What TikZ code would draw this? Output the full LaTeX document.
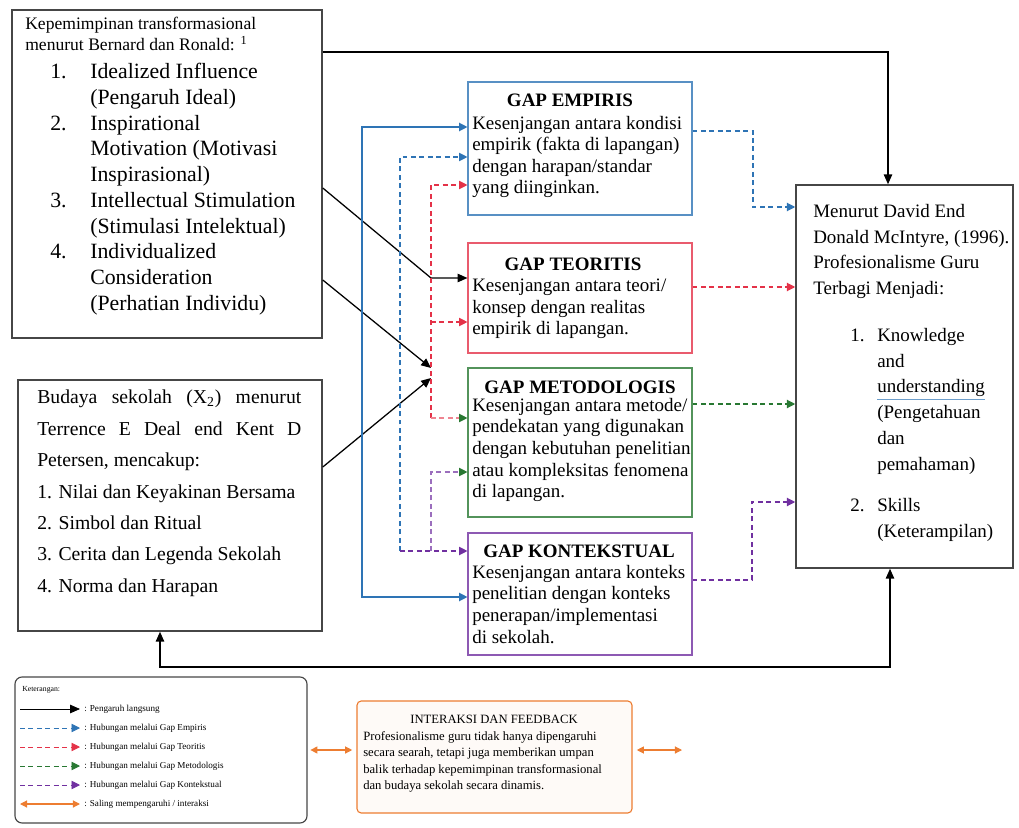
\documentclass[tikz,border=0pt]{standalone}
\usepackage{fontspec}
\setmainfont{Liberation Serif}
\usetikzlibrary{arrows.meta,fit}

\definecolor{gapblue}{RGB}{46,116,181}
\definecolor{gapred}{RGB}{228,50,72}
\definecolor{gapgreen}{RGB}{40,120,50}
\definecolor{gappurple}{RGB}{112,48,160}
\definecolor{interorange}{RGB}{237,125,49}
\definecolor{boxgray}{RGB}{70,70,70}

\newcommand{\introfont}{\fontsize{12.5}{14.6}\selectfont}
\newcommand{\listfont}{\fontsize{15.5}{18.3}\selectfont}
\newcommand{\budfont}{\fontsize{14}{22.3}\selectfont}
\newcommand{\gapfont}{\fontsize{13.5}{15.3}\selectfont}
\newcommand{\profont}{\fontsize{13.5}{18.3}\selectfont}
\newcommand{\legfont}{\fontsize{6.5}{8}\selectfont}
\newcommand{\interfont}{\fontsize{9}{11.7}\selectfont}
\newcommand{\itemno}[2][1cm]{\makebox[#1][l]{#2}}

\begin{document}
\begin{tikzpicture}[x=0.025cm, y=-0.025cm,
    mainbox/.style={draw=boxgray, line width=1.1pt, inner sep=0pt},
    gapbox/.style={draw=#1, line width=0.8pt, inner sep=0pt},
    txt/.style={inner sep=0pt, anchor=north west, align=left},
    gaptitle/.style={inner sep=0pt, anchor=base, font=\gapfont\bfseries},
    legtxt/.style={inner sep=0pt, anchor=west, font=\legfont},
    direct/.style={line width=0.9pt, -{Triangle[length=7pt,width=6pt]}},
    dashlink/.style={draw=#1, line width=0.8pt, dash pattern=on 3.5pt off 2.5pt},
    gaphead/.style={-{Triangle[length=6pt,width=6pt,color=#1]}},
    inter/.style={draw=interorange, line width=0.8pt, {Triangle[length=5pt,width=5pt]}-{Triangle[length=5pt,width=5pt]}}
  ]
    \useasboundingbox (0,0) rectangle (1019,828);

    % kotak utama
    \node[mainbox, fit={(12,10) (322,338)}] (A) {};
    \node[mainbox, fit={(18,380) (322,631)}] (B) {};
    \node[mainbox, fit={(796,185) (1013,568)}] (R) {};

    % kotak gap
    \node[gapbox=gapblue!80, fit={(468,82) (692,215)}] (E) {};
    \node[gapbox=gapred!80, fit={(468,243) (692,353)}] (T) {};
    \node[gapbox=gapgreen!80, fit={(468,368) (692,517)}] (M) {};
    \node[gapbox=gappurple!80, fit={(468,533) (692,655)}] (K) {};

    % keterangan dan interaksi
    \node[mainbox, rounded corners=5pt, line width=0.8pt, fit={(15,677) (307,823)}] (L) {};
    \node[draw=interorange, fill=interorange!4, rounded corners=3pt, line width=0.8pt, inner sep=0pt, fit={(357,701) (632,813)}] (I) {};

    % teks
    \node[txt, font=\introfont] (Aintro) at (25,17) {Kepemimpinan transformasional\\
        menurut Bernard dan Ronald: \textsuperscript{1}};
    \node[txt, font=\listfont] (Alist) at (50,63) {\itemno{1.}Idealized Influence\\
        \itemno{}(Pengaruh Ideal)\\
        \itemno{2.}Inspirational\\
        \itemno{}Motivation (Motivasi\\
        \itemno{}Inspirasional)\\
        \itemno{3.}Intellectual Stimulation\\
        \itemno{}(Stimulasi Intelektual)\\
        \itemno{4.}Individualized\\
        \itemno{}Consideration\\
        \itemno{}(Perhatian Individu)};

    \node[txt, font=\budfont] (Btext) at (37,390) {\makebox[6.6cm][s]{Budaya sekolah (X\textsubscript{2}) menurut}\\
        \makebox[6.6cm][s]{Terrence E Deal end Kent D}\\
        Petersen, mencakup:\\
        1. Nilai dan Keyakinan Bersama\\
        2. Simbol dan Ritual\\
        3. Cerita dan Legenda Sekolah\\
        4. Norma dan Harapan};

    \node[gaptitle] (Etitle) at (570,107) {GAP EMPIRIS};
    \node[txt, font=\gapfont] (Etext) at (472,116) {Kesenjangan antara kondisi\\
        empirik (fakta di lapangan)\\
        dengan harapan/standar\\
        yang diinginkan.};
    \node[gaptitle] (Ttitle) at (573,270) {GAP TEORITIS};
    \node[txt, font=\gapfont] (Ttext) at (472,279) {Kesenjangan antara teori/\\
        konsep dengan realitas\\
        empirik di lapangan.};
    \node[gaptitle] (Mtitle) at (580,393) {GAP METODOLOGIS};
    \node[txt, font=\gapfont] (Mtext) at (472,398) {Kesenjangan antara metode/\\
        pendekatan yang digunakan\\
        dengan kebutuhan penelitian\\
        atau kompleksitas fenomena\\
        di lapangan.};
    \node[gaptitle] (Ktitle) at (579,557) {GAP KONTEKSTUAL};
    \node[txt, font=\gapfont] (Ktext) at (472,565) {Kesenjangan antara konteks\\
        penelitian dengan konteks\\
        penerapan/implementasi\\
        di sekolah.};

    \node[txt, font=\profont] (Rintro) at (813,204) {Menurut David End\\
        Donald McIntyre, (1996).\\
        Profesionalisme Guru\\
        Terbagi Menjadi:};
    \node[txt, font=\profont] (Rlist) at (850,328) {\itemno[0.675cm]{1.}Knowledge\\
        \itemno[0.675cm]{}and\\
        \itemno[0.675cm]{}{\color{gapblue!70}\underline{\color{black}understanding}}\\
        \itemno[0.675cm]{}(Pengetahuan\\
        \itemno[0.675cm]{}dan\\
        \itemno[0.675cm]{}pemahaman)\\[11pt]
        \itemno[0.675cm]{2.}Skills\\
        \itemno[0.675cm]{}(Keterampilan)};

    \node[inner sep=0pt, anchor=base, font=\interfont] (Ititle) at (494,723) {INTERAKSI DAN FEEDBACK};
    \node[txt, font=\interfont] (Itext) at (363,731) {Profesionalisme guru tidak hanya dipengaruhi\\
        secara searah, tetapi juga memberikan umpan\\
        balik terhadap kepemimpinan transformasional\\
        dan budaya sekolah secara dinamis.};

    % pengaruh langsung
    \coordinate (topturn) at (888,52);
    \draw[direct] (A.east |- topturn) -- (topturn) -- (topturn |- R.north);
    \coordinate (botL) at (160,667);
    \coordinate (botR) at (890,667);
    \draw[direct, {Triangle[length=7pt,width=6pt]}-{Triangle[length=7pt,width=6pt]}] (botL |- B.south) -- (botL) -- (botR) -- (botR |- R.south);
    \coordinate (jT) at (431,278);
    \coordinate (jA) at (431,368);
    \coordinate (jB) at (431,378);
    \draw[direct] (A.east |- 0,188) -- (jT) -- (T.west |- jT);
    \draw[direct] (A.east |- 0,280) -- (jA);
    \draw[direct] (B.east |- 0,467) -- (jB);

    % kiri gap
    \coordinate (bt) at (362,127);
    \coordinate (bb) at (362,597);
    \draw[gapblue, line width=0.9pt, {Triangle[length=6pt,width=6pt]}-{Triangle[length=6pt,width=6pt]}] (E.west |- bt) -- (bt) -- (bb) -- (K.west |- bb);
    \coordinate (dbt) at (400,157);
    \coordinate (dbb) at (400,551);
    \draw[dashlink=gapblue, gaphead=gapblue] (dbb) -- (dbt) -- (E.west |- dbt);
    \draw[dashlink=gappurple, gaphead=gappurple] (dbb) -- (K.west |- dbb);
    \coordinate (rt) at (431,185);
    \coordinate (rb) at (431,418);
    \draw[dashlink=gapred, gaphead=gapred] (rb) -- (rt) -- (E.west |- rt);
    \draw[dashlink=gapred, gaphead=gapred] (rb |- 0,322) -- (T.west |- 0,322);
    \draw[dashlink=gapred!60, gaphead=gapgreen] (rb) -- (M.west |- rb);
    \coordinate (pt) at (431,472);
    \draw[dashlink=gappurple!70, gaphead=gapgreen] (pt |- dbb) -- (pt) -- (M.west |- pt);

    % kanan gap
    \coordinate (er) at (753,131);
    \draw[dashlink=gapblue, gaphead=gapblue] (E.east |- er) -- (er) -- (er |- 0,207) -- (R.west |- 0,207);
    \draw[dashlink=gapred, gaphead=gapred] (T.east |- 0,287) -- (R.west |- 0,287);
    \draw[dashlink=gapgreen, gaphead=gapgreen] (M.east |- 0,404) -- (R.west |- 0,404);
    \coordinate (kr) at (752,580);
    \draw[dashlink=gappurple, gaphead=gappurple] (K.east |- kr) -- (kr) -- (kr |- 0,502) -- (R.west |- 0,502);

    % interaksi
    \draw[inter] ([xshift=2pt]L.east) -- ([xshift=-3pt]I.west |- L.east);
    \coordinate (Iout) at (682,750);
    \draw[inter] ([xshift=3pt]I.east |- Iout) -- (Iout);

    % keterangan
    \node[inner sep=0pt, anchor=west, font=\fontsize{5.5}{6}\selectfont] (Lhead) at (22,690) {Keterangan:};
    \draw[direct, line width=0.6pt] (20,709) -- (80,709);
    \node[legtxt] (Lr1) at (84,709) {: Pengaruh langsung};
    \draw[dashlink=gapblue, gaphead=gapblue, line width=0.6pt] (20,728) -- (80,728);
    \node[legtxt] (Lr2) at (84,728) {: Hubungan melalui Gap Empiris};
    \draw[dashlink=gapred, gaphead=gapred, line width=0.6pt] (20,747) -- (80,747);
    \node[legtxt] (Lr3) at (84,747) {: Hubungan melalui Gap Teoritis};
    \draw[dashlink=gapgreen, gaphead=gapgreen, line width=0.6pt] (20,766) -- (80,766);
    \node[legtxt] (Lr4) at (84,766) {: Hubungan melalui Gap Metodologis};
    \draw[dashlink=gappurple, gaphead=gappurple, line width=0.6pt] (20,785) -- (80,785);
    \node[legtxt] (Lr5) at (84,785) {: Hubungan melalui Gap Kontekstual};
    \draw[inter] (20,804) -- (80,804);
    \node[legtxt] (Lr6) at (84,804) {: Saling mempengaruhi / interaksi};
\end{tikzpicture}
\end{document}
